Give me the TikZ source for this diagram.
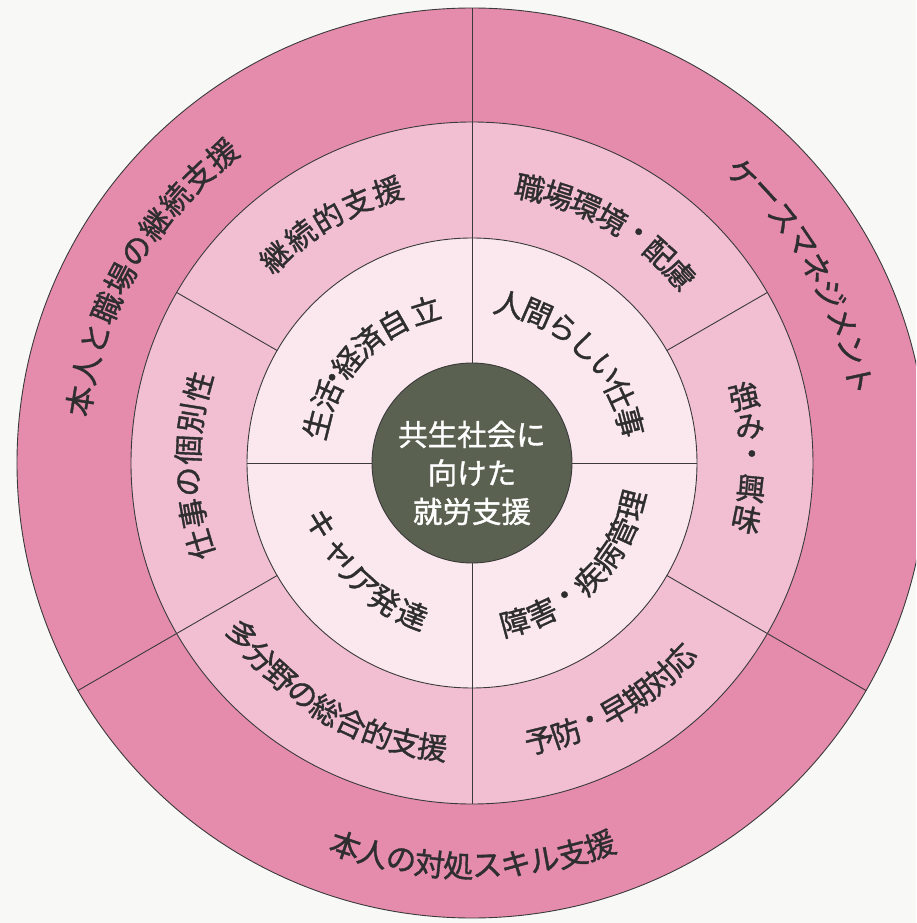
\documentclass[tikz,border=0pt]{standalone}
\usepackage{fontspec}
\setmainfont{Noto Sans CJK JP}[FakeBold=1.2]
\definecolor{bgcol}{HTML}{F8F8F6}
\definecolor{outerpink}{HTML}{E58CAD}
\definecolor{midpink}{HTML}{F2BFD2}
\definecolor{innerpink}{HTML}{FBE8EF}
\definecolor{corecol}{HTML}{5B6151}
\definecolor{txtcol}{HTML}{2E2E2E}
\definecolor{linecol}{HTML}{3A3A3A}
\tikzset{
  lbl/.style={inner sep=0pt, text=txtcol, font=\fontsize{30}{30}\selectfont},
  lblbig/.style={lbl, font=\fontsize{30.5}{30.5}\selectfont},
  ringline/.style={draw=linecol, line width=0.9pt},
}
% uniform spacing: name, radius, start angle, step, rotation offset, style, list
\newcommand{\arcword}[7]{%
  \foreach \ch [count=\i from 0] in {#7} {%
    \pgfmathsetmacro{\ang}{#3+\i*#4}%
    \pgfmathsetmacro{\rot}{\ang+#5}%
    \node[#6, rotate=\rot] (#1-\i) at (\ang:#2) {\ch};
  }}
% explicit angles: name, radius, rotation offset, style, list of angle/char
\newcommand{\arcwordat}[5]{%
  \foreach \ang/\ch [count=\i] in {#5} {%
    \pgfmathsetmacro{\rot}{\ang+#3}%
    \node[#4, rotate=\rot] (#1-\i) at (\ang:#2) {\ch};
  }}
\begin{document}
\begin{tikzpicture}[x=1pt,y=1pt]
\useasboundingbox (-472,-460) rectangle (444,463);
\clip (-472,-460) rectangle (444,463);
\fill[bgcol] (-472,-460) rectangle (444,463);

% rings
\filldraw[fill=outerpink, ringline] (0,0) circle[radius=455pt];
\filldraw[fill=midpink, ringline] (0,0) circle[radius=341pt];
\filldraw[fill=innerpink, ringline] (0,0) circle[radius=225pt];

% dividers
\foreach \a in {90,-30,-150} \draw[ringline] (\a:341) -- (\a:455);
\foreach \a in {90,30,-30,-90,-150,150} \draw[ringline] (\a:225) -- (\a:341);
\foreach \a in {0,90,180,270} \draw[ringline] (\a:100) -- (\a:225);

% core
\filldraw[fill=corecol, ringline] (0,0) circle[radius=100pt];
\node[align=center, text=white, inner sep=0pt, font=\fontsize{29.5}{38.5}\selectfont] (core) at (0,-10) {共生社会に\\向けた\\就労支援};

% outer ring
\arcword{oL}{397}{171}{-4.667}{-90}{lblbig}{本,人,と,職,場,の,継,続,支,援}
\arcword{oR}{396}{46.9}{-4.34}{-90}{lblbig}{ケ,ー,ス,マ,ネ,ジ,メ,ン,ト}
\arcword{oB}{403}{-108.3}{4.09}{90}{lblbig}{本,人,の,対,処,ス,キ,ル,支,援}

% middle ring
\arcword{m1}{285}{133.6}{-6.6}{-90}{lbl}{継,続,的,支,援}
\arcword{m2}{281}{78.1}{-5.97}{-90}{lbl}{職,場,環,境,・,配,慮}
\arcword{m3}{280}{13.8}{-6.35}{0}{lbl}{強,み,・,興,味}
\arcword{m4}{284}{196.7}{-6.46}{-90}{lbl}{仕,事,の,個,別,性}
\arcword{m5}{287}{-143.2}{5.66}{90}{lbl}{多,分,野,の,総,合,的,支,援}
\arcword{m6}{286}{-76.3}{5.5}{90}{lbl}{予,防,・,早,期,対,応}

% inner ring
\arcwordat{i1}{160}{-90}{lbl}{166/生,155/活,148.5/・,141/経,130.5/済,119.5/自,107/立}
\arcword{i2}{163}{76.8}{-10.37}{-90}{lbl}{人,間,ら,し,い,仕,事}
\arcwordat{i3}{163}{90}{lbl}{-158/キ,-146.5/ャ,-139/リ,-132/ア,-122.5/発,-111.5/達}
\arcword{i4}{165}{-75}{10.05}{90}{lbl}{障,害,・,疾,病,管,理}
\end{tikzpicture}
\end{document}
